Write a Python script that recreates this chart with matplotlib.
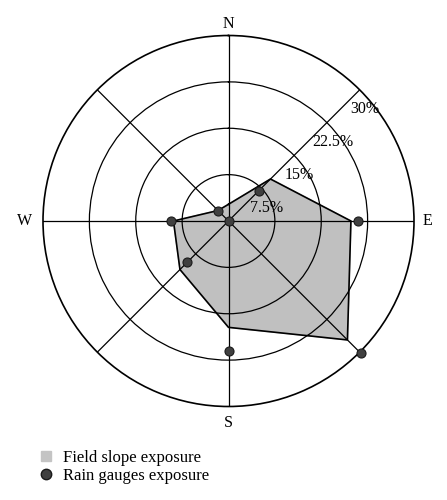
import matplotlib.pyplot as plt
from matplotlib.lines import Line2D
import numpy as np

plt.rcParams['font.family'] = ['Liberation Serif', 'DejaVu Serif']

# directions clockwise from north
directions = ["N", "NE", "E", "SE", "S", "SW", "W", "NW"]
field_slope = [2.7, 9.6, 19.8, 27.2, 17.2, 11.1, 8.9, 2.4]
rain_gauges = [0.0, 6.9, 20.9, 30.3, 21.0, 9.4, 9.3, 2.3]
ring_values = [7.5, 15, 22.5, 30]
ring_labels = ["7.5%", "15%", "22.5%", "30%"]

theta = np.deg2rad(np.arange(0, 360, 45))

fig = plt.figure(figsize=(4.47, 5.0), dpi=100)
ax = fig.add_axes([43 / 447, 1 - 407 / 500, 371 / 447, 372 / 500], projection="polar")
ax.set_theta_zero_location("N")
ax.set_theta_direction(-1)
ax.set_ylim(0, 30)

# field slope polygon
tt = np.append(theta, theta[0])
fs = np.append(field_slope, field_slope[0])
ax.fill(tt, fs, color="#c0c0c0", zorder=1)
ax.plot(tt, fs, color="black", lw=1.2, zorder=2)

# rain gauges points
ax.plot(theta, rain_gauges, "o", ms=6.5, mfc="#404040", mec="#1a1a1a",
        mew=0.8, ls="none", zorder=4, clip_on=False)

# grid
ax.set_axisbelow(False)
ax.set_rticks(ring_values[:-1])
ax.set_xticks(theta)
ax.set_yticklabels([])
ax.set_xticklabels([])
ax.grid(True, color="black", lw=0.9)
ax.spines["polar"].set_linewidth(1.2)

# ring labels along NE axis
for r, lab in zip(ring_values, ring_labels):
    ax.annotate(lab, (np.deg2rad(45), r), xytext=(4, -14), textcoords="offset points",
                ha="center", va="center", fontsize=11.5)

# cardinal labels
card = {"N": (0, 0, 8.5), "E": (90, 9.5, 0), "S": (180, 0, -12), "W": (270, -13, 0)}
for lab, (ang, dx, dy) in card.items():
    ax.annotate(lab, (np.deg2rad(ang), 30), xytext=(dx, dy), textcoords="offset points",
                ha="center", va="center", fontsize=11.5, annotation_clip=False)

handles = [
    Line2D([], [], marker="s", ls="none", ms=7, mfc="#c4c4c4", mec="#c4c4c4"),
    Line2D([], [], marker="o", ls="none", ms=7.5, mfc="#404040", mec="#1a1a1a"),
]
fig.legend(handles, ["Field slope exposure", "Rain gauges exposure"],
           loc="upper left", bbox_to_anchor=(38 / 447, 1 - 450 / 500),
           frameon=False, fontsize=12, handlelength=1.0, handletextpad=0.5,
           labelspacing=0.1, borderpad=0, borderaxespad=0)

fig.savefig("out.png", dpi=100)
